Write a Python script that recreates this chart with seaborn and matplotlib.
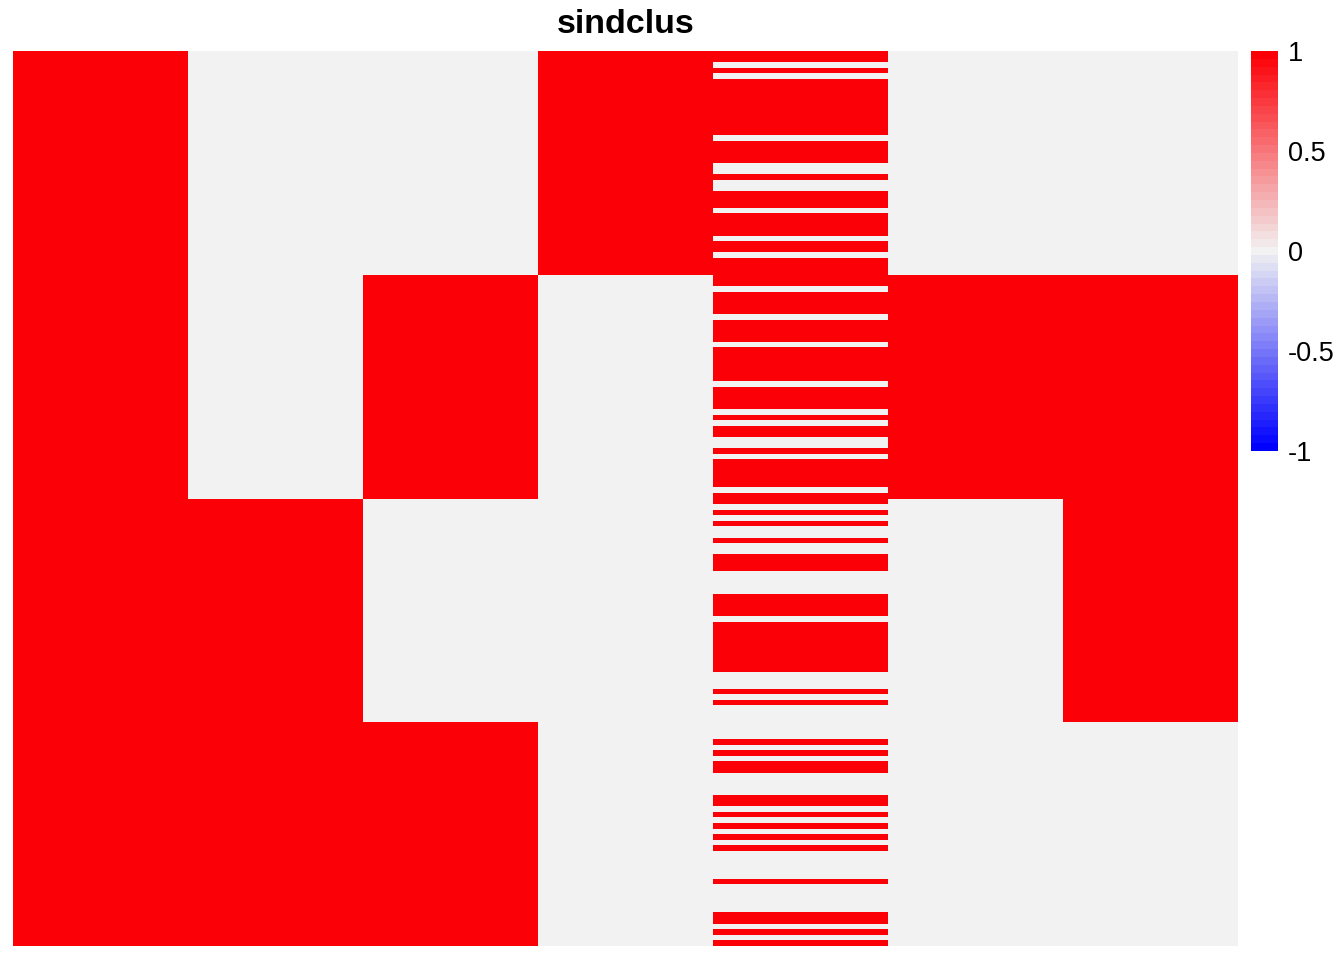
import numpy as np
import pandas as pd
import seaborn as sns
import matplotlib.pyplot as plt
from matplotlib.colors import LinearSegmentedColormap

# 7 columns, 160 rows in 4 blocks of 40
n_block = 40
col_names = ['c1', 'c2', 'c3', 'c4', 'c5', 'c6', 'c7']
# block level values (1 = red, 0 = grey) for the plain columns
c1_blocks = [1, 1, 1, 1]
c2_blocks = [0, 0, 1, 1]
c3_blocks = [0, 1, 0, 1]
c4_blocks = [1, 0, 0, 0]
c6_blocks = [0, 1, 0, 0]
c7_blocks = [0, 1, 1, 0]
# striped column, row by row
c5_rows = ("1101011111111110111100100111011110110111"
           "1101111011110111111011110101100101111101"
           "1010100100111000011110111111111000101000"
           "0001010110000110101010100000100000110101")

title = 'sindclus'
cbar_ticks = [-1, -0.5, 0, 0.5, 1]
cbar_labels = ['-1', '-0.5', '0', '0.5', '1']


def expand(blocks):
	return np.repeat(blocks, n_block)


data_df = pd.DataFrame({
	'c1': expand(c1_blocks),
	'c2': expand(c2_blocks),
	'c3': expand(c3_blocks),
	'c4': expand(c4_blocks),
	'c5': [int(ch) for ch in c5_rows],
	'c6': expand(c6_blocks),
	'c7': expand(c7_blocks),
})[col_names]

plt.rcParams['font.family'] = ['Liberation Sans', 'DejaVu Sans']

cmap = LinearSegmentedColormap.from_list('bwr_grey', ['#0000FF', '#F2F2F2', '#FC0007'], N=51)

W, H = 1344, 960
fig = plt.figure(figsize=(W / 100, H / 100), dpi=100)
ax = fig.add_axes([13 / W, (H - 946) / H, 1225 / W, 895 / H])
cax = fig.add_axes([1251 / W, (H - 451) / H, 27 / W, 400 / H])

sns.heatmap(data_df, cmap=cmap, vmin=-1, vmax=1, ax=ax, cbar_ax=cax,
            xticklabels=False, yticklabels=False)
ax.set_xlabel('')
ax.set_ylabel('')

cbar = ax.collections[0].colorbar
cbar.outline.set_visible(False)
cbar.set_ticks(cbar_ticks)
cbar.set_ticklabels(cbar_labels)
cbar.ax.tick_params(length=0, pad=7, labelsize=19.5)

fig.text(625.5 / W, 1 - 33 / H, title, ha='center', va='baseline',
         fontsize=24.5, fontweight='bold')

fig.savefig('out.png', dpi=100)
